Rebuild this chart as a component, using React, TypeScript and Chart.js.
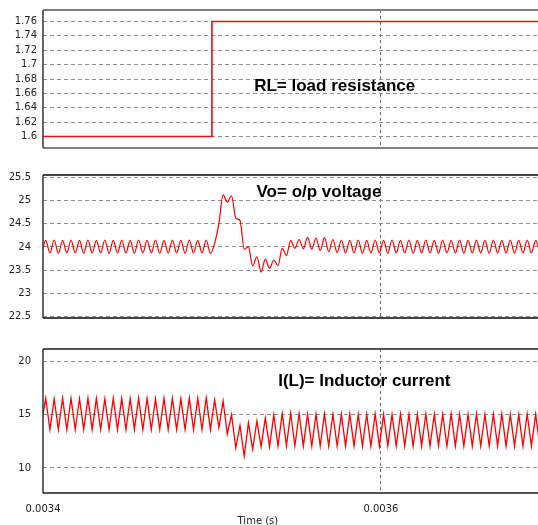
import React, { useEffect, useRef } from "react";
import { Chart, registerables } from "chart.js";

Chart.register(...registerables);

// ---- shared time axis ----
const TIME_MIN = 0.0034;
const TIME_MAX = 0.003693;
const TIME_TICKS = [0.0034, 0.0036];
const TIME_TICK_LABELS = ["0.0034", "0.0036"];
const TIME_TITLE = "Time (s)";
const TIME_TITLE_AT = 0.0035272;

// ---- panel 1: load resistance ----
const RL_TIMES = [0.0034, 0.0035, 0.0035, 0.003693];
const RL_VALUES = [1.6, 1.6, 1.76, 1.76];
const RL_TICKS = [1.6, 1.62, 1.64, 1.66, 1.68, 1.7, 1.72, 1.74, 1.76];
const RL_TICK_LABELS = ["1.6", "1.62", "1.64", "1.66", "1.68", "1.7", "1.72", "1.74", "1.76"];
const RL_LABEL = "RL= load resistance";

// ---- sampled waveforms (one sample per half switching period) ----
const SAMPLE_START = 0.0033991;
const SAMPLE_STEP = 0.0000025;

const VO_VALUES = [
  23.84, 24.14, 23.87, 24.15, 23.86, 24.14, 23.87, 24.15, 23.87, 24.14,
  23.86, 24.15, 23.87, 24.14, 23.87, 24.15, 23.86, 24.14, 23.87, 24.15,
  23.87, 24.14, 23.86, 24.15, 23.87, 24.14, 23.87, 24.15, 23.86, 24.14,
  23.87, 24.15, 23.87, 24.14, 23.86, 24.15, 23.87, 24.14, 23.87, 24.15,
  23.86, 24.08, 24.5, 25.12, 24.96, 25.1, 24.62, 24.57, 23.95, 24.0,
  23.59, 23.79, 23.46, 23.74, 23.54, 23.72, 23.6, 23.97, 23.82, 24.14,
  23.97, 24.16, 23.96, 24.21, 23.95, 24.19, 23.92, 24.2, 23.9, 24.16,
  23.88, 24.15, 23.87, 24.14, 23.87, 24.15, 23.86, 24.14, 23.87, 24.15,
  23.87, 24.14, 23.86, 24.15, 23.87, 24.14, 23.87, 24.15, 23.86, 24.14,
  23.87, 24.15, 23.87, 24.14, 23.86, 24.15, 23.87, 24.14, 23.87, 24.15,
  23.86, 24.14, 23.87, 24.15, 23.87, 24.14, 23.86, 24.15, 23.87, 24.14,
  23.87, 24.15, 23.86, 24.14, 23.87, 24.15, 23.87, 24.14, 23.86,
];
const VO_TICKS = [22.5, 23, 23.5, 24, 24.5, 25, 25.5];
const VO_TICK_LABELS = ["22.5", "23", "23.5", "24", "24.5", "25", "25.5"];
const VO_LABEL = "Vo= o/p voltage";

const IL_VALUES = [
  14.2, 16.55, 13.62, 16.5, 13.63, 16.58, 13.6, 16.55, 13.62, 16.52,
  13.63, 16.57, 13.6, 16.55, 13.62, 16.5, 13.63, 16.56, 13.6, 16.55,
  13.62, 16.52, 13.63, 16.57, 13.6, 16.55, 13.62, 16.5, 13.63, 16.56,
  13.6, 16.55, 13.62, 16.52, 13.63, 16.57, 13.6, 16.55, 13.62, 16.6,
  13.6, 16.4, 13.8, 16.3, 13.2, 15.0, 11.9, 14.0, 11.1, 14.25,
  11.75, 14.4, 12.0, 14.7, 12.0, 15.0, 12.05, 15.1, 12.07, 15.15,
  12.08, 15.1, 12.07, 15.05, 12.06, 15.05, 12.07, 15.08, 12.06, 15.05,
  12.07, 15.05, 12.06, 15.08, 12.07, 15.05, 12.06, 15.05, 12.07, 15.08,
  12.06, 15.05, 12.07, 15.05, 12.06, 15.08, 12.07, 15.05, 12.06, 15.05,
  12.07, 15.08, 12.06, 15.05, 12.07, 15.05, 12.06, 15.08, 12.07, 15.05,
  12.06, 15.05, 12.07, 15.08, 12.06, 15.05, 12.07, 15.05, 12.06, 15.08,
  12.07, 15.05, 12.06, 15.05, 12.07, 15.08, 12.06, 15.05, 12.07,
];
const IL_TICKS = [10, 15, 20];
const IL_TICK_LABELS = ["10", "15", "20"];
const IL_LABEL = "I(L)= Inductor current";

const SAMPLE_TIMES = VO_VALUES.map((_, i) => SAMPLE_START + i * SAMPLE_STEP);

const TICK_FONT = { family: "'DejaVu Sans', sans-serif", size: 10 };
const TICK_COLOR = "#222";
const NOTE_FONT = 'bold 17px "Liberation Sans", Arial, sans-serif';

type Spec = {
  top: number;
  height: number;
  padTop: number;
  padBottom: number;
  xs: number[];
  ys: number[];
  yMin: number;
  yMax: number;
  yTicks: number[];
  yLabels: string[];
  labelGap: number;
  lineWidth: number;
  lineColor: string;
  smooth: boolean;
  showTime: boolean;
  note: string;
  noteX: number;
  noteY: number;
  frameColor: string;
};

const decorPlugin = {
  id: "panelDecor",
  afterDraw(chart: any, _args: any, opts: any) {
    const { ctx, chartArea: a, scales } = chart;
    ctx.save();
    ctx.setLineDash([]);
    ctx.strokeStyle = opts.frameColor;
    ctx.lineWidth = 2;
    ctx.beginPath();
    ctx.moveTo(a.left, a.top);
    ctx.lineTo(a.right, a.top);
    ctx.moveTo(a.left, a.bottom);
    ctx.lineTo(a.right, a.bottom);
    ctx.stroke();
    ctx.strokeStyle = "#333";
    ctx.lineWidth = 1.5;
    ctx.beginPath();
    ctx.moveTo(a.left, a.top);
    ctx.lineTo(a.left, a.bottom);
    ctx.stroke();

    ctx.font = NOTE_FONT;
    ctx.fillStyle = "#000";
    ctx.textBaseline = "middle";
    ctx.textAlign = "left";
    ctx.fillText(opts.note, scales.x.getPixelForValue(opts.noteX), scales.y.getPixelForValue(opts.noteY));

    if (opts.title) {
      ctx.font = "10px 'DejaVu Sans', sans-serif";
      ctx.fillStyle = TICK_COLOR;
      ctx.textAlign = "center";
      ctx.fillText(opts.title, scales.x.getPixelForValue(TIME_TITLE_AT), a.bottom + 28);
    }
    ctx.restore();
  },
};

function Panel({ spec }: { spec: Spec }) {
  const ref = useRef<HTMLCanvasElement>(null);
  useEffect(() => {
    const canvas = ref.current!;
    const data = spec.xs.map((x, i) => ({ x, y: spec.ys[i] }));
    const chart = new Chart(canvas, {
      type: "line",
      data: {
        datasets: [
          {
            data,
            borderColor: spec.lineColor,
            borderWidth: spec.lineWidth,
            pointRadius: 0,
            fill: false,
            tension: 0,
            cubicInterpolationMode: spec.smooth ? "monotone" : "default",
          } as any,
        ],
      },
      options: {
        responsive: false,
        animation: false,
        events: [],
        layout: { padding: { top: spec.padTop, bottom: spec.padBottom, left: 0, right: 0 } },
        plugins: {
          legend: { display: false },
          tooltip: { enabled: false },
          panelDecor: {
            frameColor: spec.frameColor,
            note: spec.note,
            noteX: spec.noteX,
            noteY: spec.noteY,
            title: spec.showTime ? TIME_TITLE : "",
          },
        } as any,
        scales: {
          x: {
            type: "linear",
            min: TIME_MIN,
            max: TIME_MAX,
            afterBuildTicks: (s: any) => {
              s.ticks = TIME_TICKS.map((v) => ({ value: v }));
            },
            afterFit: (s: any) => {
              s.height = spec.showTime ? 32 : 0;
              s.paddingLeft = 0;
              s.paddingRight = 0;
            },
            ticks: {
              display: spec.showTime,
              padding: 10,
              font: TICK_FONT,
              color: TICK_COLOR,
              autoSkip: false,
              maxRotation: 0,
              callback: (_v: any, i: number) => TIME_TICK_LABELS[i],
            },
            grid: {
              drawTicks: false,
              lineWidth: 1,
              color: (c: any) => (c.tick && c.tick.value === TIME_TICKS[1] ? "#6a6a6a" : "rgba(0,0,0,0)"),
            },
            border: { display: false, dash: [3, 3] },
          },
          y: {
            type: "linear",
            min: spec.yMin,
            max: spec.yMax,
            afterBuildTicks: (s: any) => {
              s.ticks = spec.yTicks.map((v) => ({ value: v }));
            },
            afterFit: (s: any) => {
              s.width = 43;
              s.paddingTop = 0;
              s.paddingBottom = 0;
            },
            ticks: {
              padding: spec.labelGap,
              font: TICK_FONT,
              color: TICK_COLOR,
              autoSkip: false,
              callback: (_v: any, i: number) => spec.yLabels[i],
            },
            grid: { drawTicks: false, color: "#8e8e8e", lineWidth: 1 },
            border: { display: false, dash: [4, 3] },
          },
        },
      } as any,
      plugins: [decorPlugin],
    });
    return () => chart.destroy();
  }, [spec]);
  return (
    <canvas
      ref={ref}
      width={538}
      height={spec.height}
      style={{ position: "absolute", left: 0, top: spec.top, width: 538, height: spec.height }}
    />
  );
}

const PANELS: Spec[] = [
  {
    top: 0,
    height: 160,
    padTop: 10,
    padBottom: 12,
    xs: RL_TIMES,
    ys: RL_VALUES,
    yMin: 1.584,
    yMax: 1.776,
    yTicks: RL_TICKS,
    yLabels: RL_TICK_LABELS,
    labelGap: 6,
    lineWidth: 1.6,
    lineColor: "#e8101a",
    smooth: false,
    showTime: false,
    note: RL_LABEL,
    noteX: 0.003525,
    noteY: 1.67,
    frameColor: "#7f7f7f",
  },
  {
    top: 165,
    height: 165,
    padTop: 10,
    padBottom: 12,
    xs: SAMPLE_TIMES,
    ys: VO_VALUES,
    yMin: 22.475,
    yMax: 25.545,
    yTicks: VO_TICKS,
    yLabels: VO_TICK_LABELS,
    labelGap: 12,
    lineWidth: 1.2,
    lineColor: "#ff0000",
    smooth: true,
    showTime: false,
    note: VO_LABEL,
    noteX: 0.0035264,
    noteY: 25.18,
    frameColor: "#444",
  },
  {
    top: 335,
    height: 190,
    padTop: 14,
    padBottom: 0,
    xs: SAMPLE_TIMES,
    ys: IL_VALUES,
    yMin: 7.64,
    yMax: 21.2,
    yTicks: IL_TICKS,
    yLabels: IL_TICK_LABELS,
    labelGap: 12,
    lineWidth: 1.3,
    lineColor: "#ff0000",
    smooth: false,
    showTime: true,
    note: IL_LABEL,
    noteX: 0.0035392,
    noteY: 18.17,
    frameColor: "#555",
  },
];

export default function App() {
  return (
    <div
      style={{
        position: "absolute",
        left: 0,
        top: 0,
        width: 538,
        height: 525,
        background: "#fff",
        overflow: "hidden",
      }}
    >
      {PANELS.map((p, i) => (
        <Panel key={i} spec={p} />
      ))}
    </div>
  );
}
